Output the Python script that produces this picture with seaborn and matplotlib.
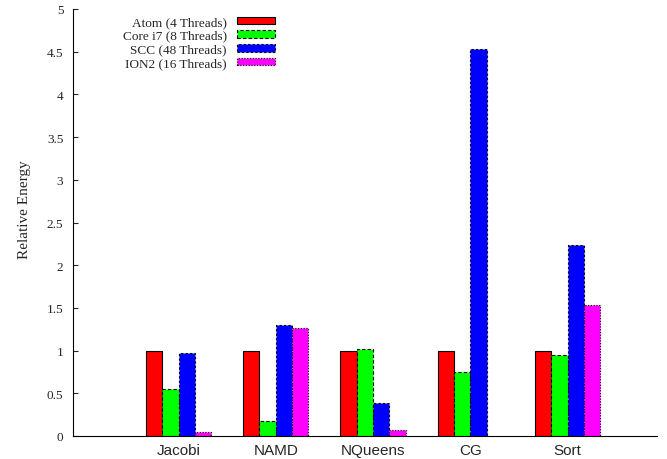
import numpy as np
import pandas as pd
import matplotlib.pyplot as plt
import matplotlib.patches as mpatches
import seaborn as sns

benchmarks = ['Jacobi', 'NAMD', 'NQueens', 'CG', 'Sort']
systems = ['Atom (4 Threads)', 'Core i7 (8 Threads)', 'SCC (48 Threads)', 'ION2 (16 Threads)']
atom = [1.0, 1.0, 1.0, 1.0, 1.0]
corei7 = [0.55, 0.18, 1.02, 0.75, 0.95]
scc = [0.97, 1.30, 0.39, 4.53, 2.24]
ion2 = [0.05, 1.26, 0.07, np.nan, 1.53]
yticks = [0, 0.5, 1, 1.5, 2, 2.5, 3, 3.5, 4, 4.5, 5]

colors = ['#ff0000', '#00ff00', '#0000ff', '#ff00ff']
styles = ['-', (0, (3, 2)), (0, (2, 2)), (0, (1, 1.5))]

rows = []
for s, vals in zip(systems, [atom, corei7, scc, ion2]):
    for b, v in zip(benchmarks, vals):
        rows.append({'benchmark': b, 'system': s, 'energy': v})
df = pd.DataFrame(rows)

sns.set_style('white')
plt.rcParams['font.family'] = ['Liberation Serif', 'DejaVu Serif']

fig = plt.figure(figsize=(6.67, 4.6), dpi=100)
ax = fig.add_axes([73/667, 23/460, (657-73)/667, 427/460])
sns.barplot(data=df, x='benchmark', y='energy', hue='system', hue_order=systems,
            palette=colors, width=0.67, saturation=1, edgecolor='black',
            linewidth=0.8, legend=False, ax=ax)
for cont, ls in zip(ax.containers, styles):
    for bar in cont:
        bar.set_linestyle(ls)

ax.set_xlim(-1.085, 4.92)
ax.set_ylim(0, 5)
ax.set_yticks(yticks)
ax.set_yticklabels(['%g' % t for t in yticks], fontsize=9.5)
ax.set_xlabel('')
ax.set_ylabel('Relative Energy', fontsize=11)
ax.yaxis.set_label_coords(-0.083, 0.532)
ax.yaxis.label.set_va('center')
for lab in ax.get_xticklabels():
    lab.set_family(['Liberation Sans', 'DejaVu Sans'])
    lab.set_fontsize(11)
ax.tick_params(axis='y', direction='in', length=3.5, width=0.8, pad=7, left=True)
ax.tick_params(axis='x', length=0, pad=5)
for side in ['top', 'right']:
    ax.spines[side].set_visible(False)
for side in ['left', 'bottom']:
    ax.spines[side].set_color('black')
    ax.spines[side].set_linewidth(0.8)

handles = [mpatches.Patch(facecolor=c, edgecolor='black', linestyle=ls, linewidth=0.8, label=s)
           for c, ls, s in zip(colors, styles, systems)]
ax.legend(handles=handles, loc='upper right', bbox_to_anchor=(275/667, 1 - 17/460),
          bbox_transform=fig.transFigure, frameon=False, markerfirst=False,
          fontsize=9.5, handlelength=2.88, handleheight=0.5, handletextpad=0.76,
          labelspacing=0.13, borderpad=0, borderaxespad=0)

fig.savefig('out.png', dpi=100)
